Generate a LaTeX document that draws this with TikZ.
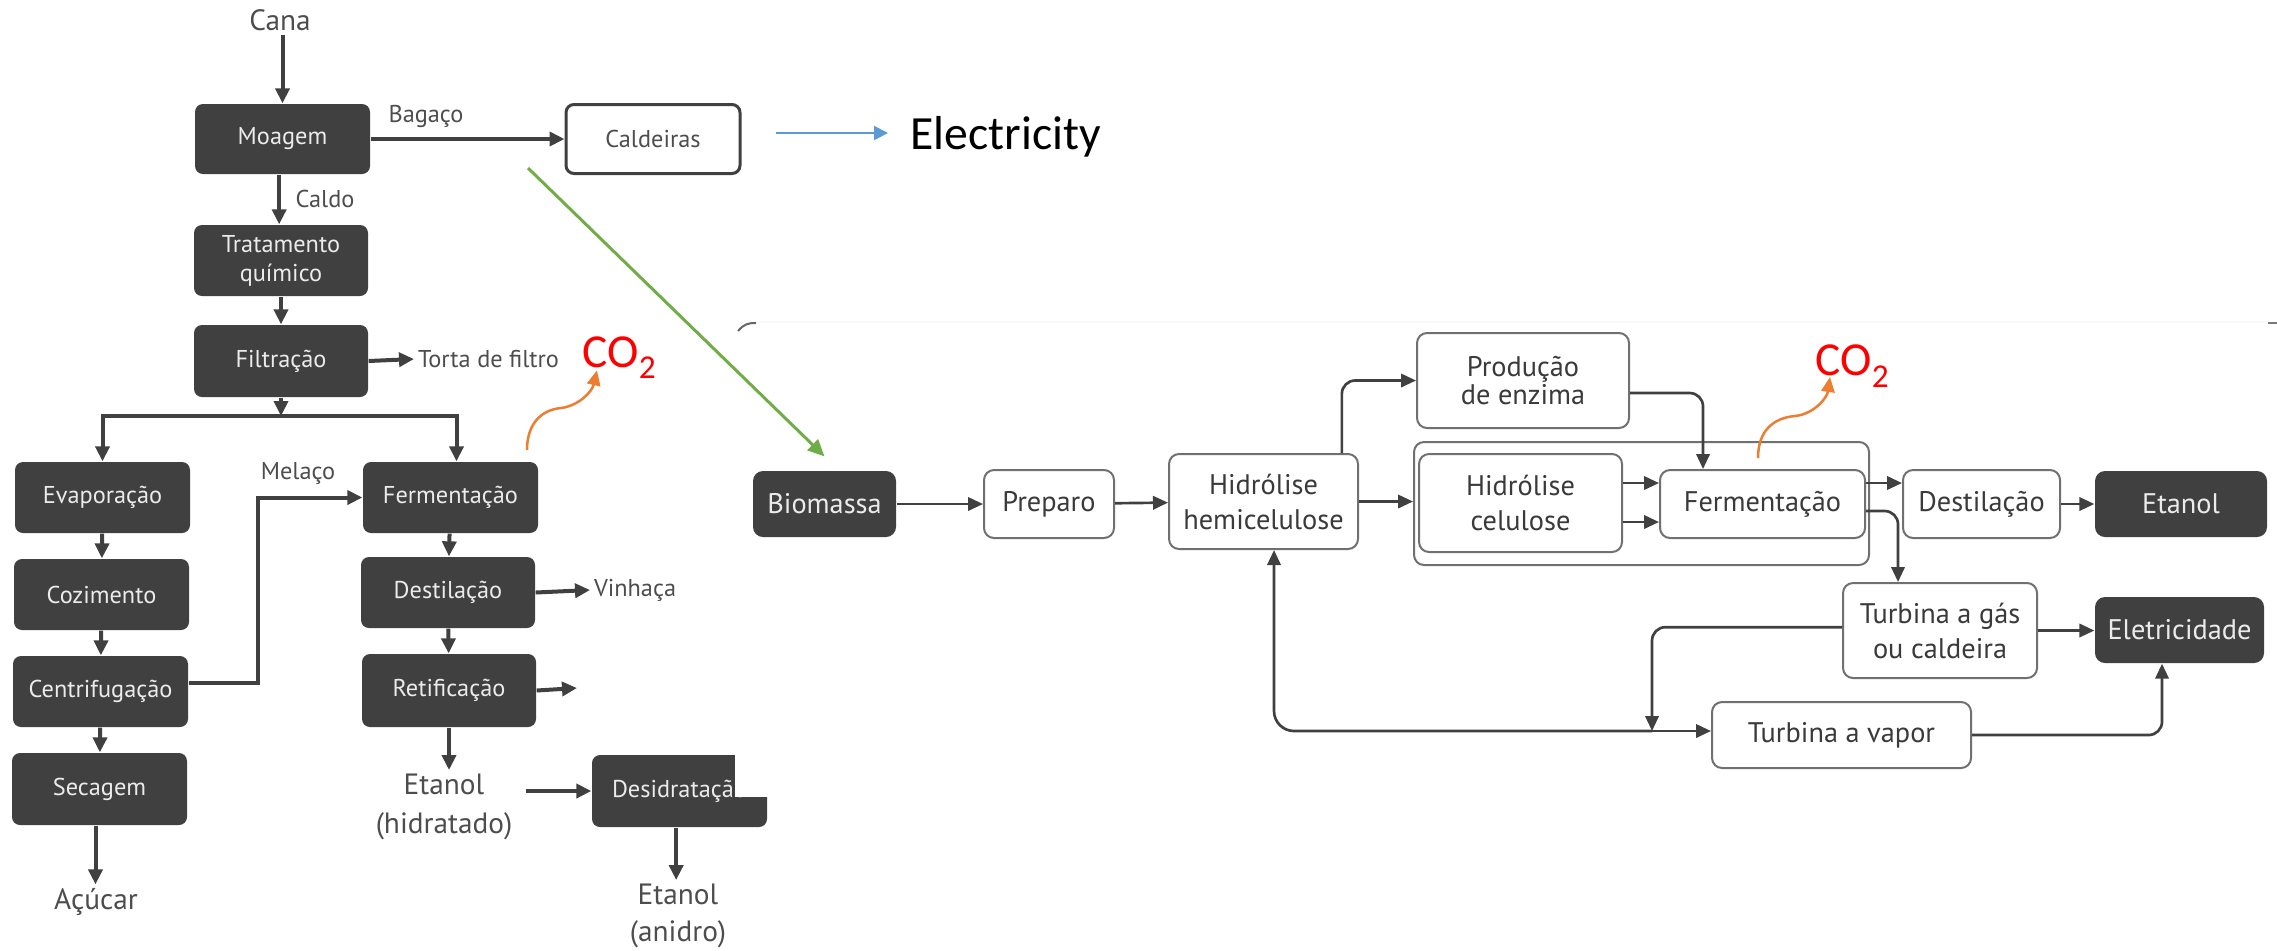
\documentclass[tikz,border=0pt]{standalone}
\usepackage{fontspec}
\setmainfont{PT Sans}
\newfontfamily\calfont{Carlito}
\usetikzlibrary{arrows.meta}
\definecolor{dk}{HTML}{404040}
\definecolor{bdr}{HTML}{707070}
\definecolor{lbl}{HTML}{4D4D4D}
\definecolor{txt}{HTML}{3A3A3A}
\definecolor{grn}{HTML}{70AD47}
\definecolor{blu}{HTML}{5B9BD5}
\definecolor{org}{HTML}{ED7D31}
\begin{document}
\begin{tikzpicture}[x=0.3pt,y=-0.3pt,
  dbox/.style={rectangle,rounded corners=2.4pt,fill=dk,text=white!92!black,inner sep=0pt,align=center,font=\fontsize{7.3}{8.7}\selectfont},
  wbox/.style={rectangle,rounded corners=3pt,draw=bdr,line width=0.6pt,fill=white,text=txt,inner sep=0pt,align=center,font=\fontsize{8.5}{10.5}\selectfont},
  rdbox/.style={rectangle,rounded corners=3pt,fill=dk,text=white!92!black,inner sep=0pt,align=center,font=\fontsize{8.5}{10.5}\selectfont},
  lab/.style={text=lbl,font=\fontsize{7.3}{8.7}\selectfont,inner sep=1pt},
  prod/.style={text=lbl,font=\fontsize{8.8}{11.7}\selectfont,align=center,inner sep=1pt},
  arr/.style={draw=dk,line width=1.2pt,-{Triangle[length=4.5pt,width=4.2pt]}},
  rarr/.style={draw=dk,line width=0.8pt,rounded corners=4pt,-{Triangle[length=4.5pt,width=4pt]}},
  oarr/.style={draw=org,line width=0.75pt,-{Triangle[length=4.5pt,width=4pt]}},
  co2/.style={text=red,font=\calfont\fontsize{14.2}{17}\selectfont,inner sep=0pt}
]
\useasboundingbox (0,0) rectangle (2277,950);

% faint frame of pasted image and stray marks
\draw[gray!5,line width=0.4pt] (748,322) -- (2268,322);
\draw[dk!80,line width=0.6pt] (738,331) .. controls (744,324) and (748,323) .. (756,323);
\draw[dk!70,line width=0.8pt] (2268,323) -- (2277,323);

% ---------------- left diagram ----------------
\node[prod] (cana) at (280,20) {Cana};
\node[dbox,minimum width=52.5pt,minimum height=21pt] (moagem) at (282.5,139) {Moagem};
\node[rectangle,rounded corners=2.4pt,draw=dk,line width=0.9pt,fill=white,text=lbl,inner sep=0pt,font=\fontsize{7.3}{8.7}\selectfont,minimum width=52.2pt,minimum height=20.7pt] (caldeiras) at (653,139) {Caldeiras};
\node[dbox,minimum width=52.2pt,minimum height=21.3pt] (tratamento) at (281,260.5) {Tratamento\\químico};
\node[dbox,minimum width=52.2pt,minimum height=21.6pt] (filtracao) at (281,361) {Filtração};
\node[dbox,minimum width=52.5pt,minimum height=21.3pt] (evap) at (102.5,497.5) {Evaporação};
\node[dbox,minimum width=52.5pt,minimum height=21.3pt] (fermL) at (450.5,497.5) {Fermentação};
\node[dbox,minimum width=52.5pt,minimum height=21.3pt] (cozim) at (101.5,594.5) {Cozimento};
\node[dbox,minimum width=52.2pt,minimum height=21.3pt] (destL) at (448,592.5) {Destilação};
\node[dbox,minimum width=52.5pt,minimum height=21.3pt] (centrif) at (100.5,691.5) {Centrifugação};
\node[dbox,minimum width=52.2pt,minimum height=21.9pt] (retif) at (449,690.5) {Retificação};
\node[dbox,minimum width=52.5pt,minimum height=21.6pt] (secagem) at (99.5,789) {Secagem};
\node[dbox,minimum width=52.5pt,minimum height=21.6pt] (desid) at (679.5,791) {Desidratação};
\fill[white] (735,745) rectangle (780,797);

\node[prod] (acucar) at (96,902) {Açúcar};
\node[prod] (etanolh) at (444,807) {Etanol\\(hidratado)};
\node[prod,font=\fontsize{8.8}{11.1}\selectfont] (etanola) at (678,916) {Etanol\\(anidro)};

\node[lab] at (426,116) {Bagaço};
\node[lab] at (325,199) {Caldo};
\node[lab] at (298,473) {Melaço};
\node[lab,anchor=west] (torta) at (414,359) {Torta de filtro};
\node[lab,anchor=west] (vinhaca) at (590,590) {Vinhaça};

\coordinate (fj) at (281,416);
\coordinate (retout) at (577,688);

\draw[arr] (cana.south -| moagem.north) -- (moagem.north);
\draw[arr] (moagem) -- (caldeiras);
\draw[arr] ([xshift=-1pt]moagem.south) -- ([xshift=-1pt]moagem.south |- tratamento.north);
\draw[arr] (tratamento) -- (filtracao);
\draw[arr] (filtracao.east) -- (torta.west);
\draw[arr] (filtracao) -- (fj);
\draw[arr] (fj) -| (evap.north);
\draw[arr] (fj) -| ([xshift=1.8pt]fermL.north);
\draw[arr] (evap) -- (cozim);
\draw[arr] (cozim) -- (centrif);
\draw[arr] (centrif) -- (secagem);
\draw[arr] ([xshift=-1.2pt]secagem.south) -- ([xshift=-1.2pt]secagem.south |- acucar.north);
\draw[arr] ([yshift=2.5pt]centrif.east) -- ++(69,0) |- (fermL.west);
\draw[arr] (fermL) -- (destL);
\draw[arr] (destL.east) -- (vinhaca.west);
\draw[arr] (destL) -- (retif);
\draw[arr] (retif.east) -- (retout);
\draw[arr] (retif.south) -- (retif.south |- etanolh.north);
\draw[arr] ([xshift=3pt]etanolh.east |- desid.west) -- (desid.west);
\draw[arr] ([xshift=-1pt]desid.south) -- ([xshift=-1pt]desid.south |- etanola.north);

% Electricity
\coordinate (bs) at (776,133);
\coordinate (be) at (888,133);
\node[anchor=base west,font=\calfont\fontsize{14.3}{17}\selectfont,inner sep=0pt] (elec) at (910,149) {Electricity};
\draw[blu,line width=0.6pt,-{Triangle[length=4.2pt,width=4.2pt]}] (bs) -- (be);

% CO2 left
\node[co2,anchor=base west] (co2L) at (582,367) {CO\raisebox{-3.4pt}{\fontsize{10}{11}\selectfont 2}};
\coordinate (o1s) at (527,450);
\draw[oarr] (o1s) .. controls (527,425) and (540,410) .. (561,408) .. controls (578,406) and (592,392) .. ([xshift=4.5pt,yshift=-1pt]co2L.base west);

% ---------------- right diagram ----------------
\node[wbox,minimum width=136.5pt,minimum height=36.9pt] (group) at (1641.5,503.5) {};
\node[rdbox,minimum width=42.9pt,minimum height=19.8pt] (biomassa) at (824.5,504) {Biomassa};
\node[wbox,minimum width=39pt,minimum height=20.4pt] (preparo) at (1049,504) {Preparo};
\node[wbox,minimum width=56.7pt,minimum height=28.5pt] (hemi) at (1263.5,501.5) {Hidrólise\\hemicelulose};
\node[wbox,minimum width=63.6pt,minimum height=28.5pt,font=\fontsize{8.5}{8.6}\selectfont] (producao) at (1523,380.5) {Produção\\de enzima};
\node[wbox,minimum width=60.9pt,minimum height=29.4pt] (celulose) at (1520.5,503) {Hidrólise\\celulose};
\node[wbox,minimum width=61.5pt,minimum height=20.4pt] (fermR) at (1762.5,504) {Fermentação};
\node[wbox,minimum width=47.1pt,minimum height=20.4pt] (destR) at (1981.5,504) {Destilação};
\node[rdbox,minimum width=51.6pt,minimum height=19.8pt] (etanolR) at (2181,504) {Etanol};
\node[wbox,minimum width=58.2pt,minimum height=28.5pt] (turbgas) at (1940,630.5) {Turbina a gás\\ou caldeira};
\node[rdbox,minimum width=50.7pt,minimum height=19.8pt] (eletric) at (2179.5,630) {Eletricidade};
\node[wbox,minimum width=77.7pt,minimum height=19.8pt] (turbvap) at (1841.5,735) {Turbina a vapor};
\coordinate (jn) at (1652,731);

% green link
\coordinate (gs) at (528,168);
\draw[grn,line width=0.9pt,-{Triangle[length=5pt,width=4.5pt]}] (gs) -- ([yshift=4.2pt]biomassa.north);

\draw[rarr] (biomassa) -- (preparo);
\draw[rarr] (preparo) -- (hemi);
\draw[rarr] (hemi.east) -- (hemi.east -| group.west);
\draw[rarr] ([xshift=23.5pt]hemi.north) |- (producao.west);
\draw[rarr] ([yshift=-3.75pt]producao.east) -| ([xshift=-17.85pt]fermR.north);
\draw[rarr] ([yshift=6pt]celulose.east) -- ([yshift=6pt]celulose.east -| fermR.west);
\draw[rarr] ([yshift=-5.7pt]celulose.east) -- ([yshift=-5.7pt]celulose.east -| fermR.west);
\draw[rarr] ([yshift=6.3pt]fermR.east) -- ([yshift=6.3pt]fermR.east -| destR.west);
\draw[rarr] (destR) -- (etanolR);
\draw[rarr] ([yshift=-2.1pt]fermR.east) -| ([xshift=-12.6pt]turbgas.north);
\draw[rarr] (turbgas.east) -- (turbgas.east -| eletric.west);
\draw[rarr] ([yshift=1pt]turbgas.west) -| (jn);
\draw[rarr] (jn) -- (jn -| turbvap.west);
\draw[rarr,rounded corners=6pt] (jn) -| ([xshift=3.15pt]hemi.south);
\draw[rarr] (turbvap.east) -| ([xshift=-5.25pt]eletric.south);

% CO2 right
\node[co2,anchor=base west] (co2R) at (1815,375) {CO\raisebox{-3.6pt}{\fontsize{10}{11}\selectfont 2}};
\coordinate (o2s) at (1758,458);
\draw[oarr] (o2s) .. controls (1758,432) and (1772,418) .. (1795,416) .. controls (1814,414) and (1827,398) .. ([xshift=4.5pt,yshift=-0.6pt]co2R.base west);
\end{tikzpicture}
\end{document}
